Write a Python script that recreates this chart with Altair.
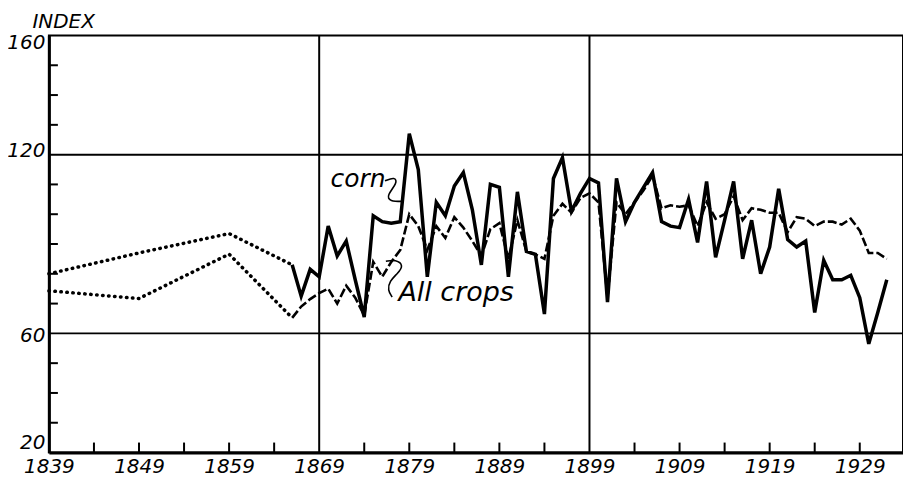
import altair as alt
import pandas as pd

# ---------------- data ----------------
early_years = [1839, 1849, 1859, 1866]
corn_early = [80.0, 87.0, 93.5, 83.0]
crops_early = [74.3, 71.7, 86.6, 65.2]

years = list(range(1866, 1933))
corn = [83, 72.5, 81.5, 79, 96, 86, 91, 78, 65.5, 99.5,
        97.5, 97, 97.5, 127, 115, 79, 104, 99.5, 109.5, 114,
        101.5, 83, 110, 109, 79, 107.5, 87.5, 86.5, 66.5, 112,
        119, 101, 107, 112, 110.5, 70.5, 112, 97.5, 104, 109,
        114, 97.5, 96, 95.5, 105, 90.5, 111, 85.5, 98, 111,
        85, 98, 80, 89, 108.5, 91.5, 89, 91, 67, 84.5,
        78, 78, 79.5, 72, 56.5, 67, 78]
all_crops = [65.2, 69, 71.5, 73.5, 75, 70, 76, 72, 66, 84,
             79, 84, 88, 100, 96, 88, 96, 92, 99, 95.5,
             91, 86, 95, 97, 85, 98, 87.5, 86.5, 85, 99.5,
             103.5, 100.5, 105.5, 107, 104, 72, 104, 100, 104, 108,
             113, 102, 103, 102.5, 103, 96, 104, 98.5, 100, 106,
             98, 102, 101.5, 100.5, 100.5, 94, 99, 98.5, 96, 97.5,
             97.5, 96.5, 98.5, 94.5, 87, 87, 85]

x_label_years = [1839, 1849, 1859, 1869, 1879, 1889, 1899, 1909, 1919, 1929]
x_tick_years = [1844, 1849, 1854, 1859, 1864, 1874, 1879, 1884, 1889, 1894,
                1904, 1909, 1914, 1919, 1924, 1929]
y_label_values = [20, 60, 120, 160]
y_tick_values = [30, 40, 50, 70, 80, 90, 100, 110, 130, 140, 150]
grid_years = [1869, 1899]
grid_values = [60, 120]

label_names = ["corn", "All crops"]
label_years = [1873.3, 1884.2]
label_values = [111.8, 73.4]

corn_leader_years = [1876.3, 1877.4, 1877.7, 1876.5, 1876.8, 1878.4]
corn_leader_values = [111.2, 112.5, 110.6, 106.3, 104.3, 104.3]
crops_leader_years = [1876.4, 1877.5, 1878.4, 1877.7, 1876.8, 1876.6, 1877.1]
crops_leader_values = [84.2, 84.8, 82.8, 80.1, 77.5, 74.5, 72.2]

# ---------------- tables ----------------
early_df = pd.DataFrame({
    "year": early_years * 2,
    "value": corn_early + crops_early,
    "series": ["Corn"] * len(early_years) + ["All crops"] * len(early_years),
})
corn_df = pd.DataFrame({"year": years, "value": corn})
crops_df = pd.DataFrame({"year": years, "value": all_crops})
xlab_df = pd.DataFrame({"year": x_label_years})
xtick_df = pd.DataFrame({"year": x_tick_years})
ytick_df = pd.DataFrame({"value": y_tick_values})
gx_df = pd.DataFrame({"year": grid_years})
gy_df = pd.DataFrame({"value": grid_values})
lab_df = pd.DataFrame({"name": label_names, "year": label_years, "value": label_values,
                       "size": [25, 27]})
lead_df = pd.DataFrame({
    "year": corn_leader_years + crops_leader_years,
    "value": corn_leader_values + crops_leader_values,
    "which": ["corn"] * len(corn_leader_years) + ["crops"] * len(crops_leader_years),
    "order": list(range(len(corn_leader_years))) + list(range(len(crops_leader_years))),
})

W, H = 856, 418
FONT = "DejaVu Sans"
xs = alt.Scale(domain=[1839, 1933.8], nice=False, zero=False)
ys = alt.Scale(domain=[20, 160], nice=False, zero=False)

x_axis = alt.Axis(values=x_label_years, format="d", title=None, ticks=False, grid=False,
                  domainColor="black", domainWidth=3, labelFont=FONT,
                  labelFontStyle="italic", labelFontSize=20, labelColor="black",
                  labelPadding=4, labelFlush=False, labelOverlap=False)
y_axis = alt.Axis(values=y_label_values, title="INDEX", ticks=False, grid=False,
                  domainColor="black", domainWidth=3, labelFont=FONT,
                  labelFontStyle="italic", labelFontSize=20, labelColor="black",
                  labelPadding=4, labelOverlap=False,
                  labelOffset={"condition": [
                      {"test": "datum.value == 20", "value": -10},
                      {"test": "datum.value == 160", "value": 7},
                      {"test": "datum.value == 120", "value": -4},
                  ], "value": 2},
                  titleAngle=0, titleAlign="left", titleBaseline="alphabetic",
                  titleX=-17, titleY=-8, titleFont=FONT, titleFontStyle="italic",
                  titleFontWeight="normal", titleFontSize=20, titleColor="black")

# axes carrier (invisible points)
axes = alt.Chart(xlab_df).mark_point(opacity=0).encode(
    x=alt.X("year:Q", scale=xs, axis=x_axis),
    y=alt.Y("value:Q", scale=ys, axis=y_axis),
).transform_calculate(value="40")

grid_v = alt.Chart(gx_df).mark_rule(color="black", strokeWidth=2).encode(
    x=alt.X("year:Q", scale=xs), y=alt.value(0), y2=alt.value(H))
grid_h = alt.Chart(gy_df).mark_rule(color="black", strokeWidth=2).encode(
    y=alt.Y("value:Q", scale=ys), x=alt.value(0), x2=alt.value(W))

xticks = alt.Chart(xtick_df).mark_rule(color="black", strokeWidth=2).encode(
    x=alt.X("year:Q", scale=xs), y=alt.value(H), y2=alt.value(H - 10))
yticks = alt.Chart(ytick_df).mark_rule(color="black", strokeWidth=2).encode(
    y=alt.Y("value:Q", scale=ys), x=alt.value(0), x2=alt.value(9))

early = alt.Chart(early_df).mark_line(
    color="black", strokeWidth=3.5, strokeDash=[0.5, 5.5], strokeCap="round"
).encode(x=alt.X("year:Q", scale=xs), y=alt.Y("value:Q", scale=ys), detail="series:N")

corn_line = alt.Chart(corn_df).mark_line(color="black", strokeWidth=3.5).encode(
    x=alt.X("year:Q", scale=xs), y=alt.Y("value:Q", scale=ys))

crops_line = alt.Chart(crops_df).mark_line(
    color="black", strokeWidth=2.6, strokeDash=[9, 3]
).encode(x=alt.X("year:Q", scale=xs), y=alt.Y("value:Q", scale=ys))

labels = alt.Chart(lab_df).mark_text(
    font=FONT, fontStyle="italic", color="black", align="center", baseline="middle"
).encode(x=alt.X("year:Q", scale=xs), y=alt.Y("value:Q", scale=ys), text="name:N",
         size=alt.Size("size:Q", scale=None, legend=None))

leaders = alt.Chart(lead_df).mark_line(color="black", strokeWidth=1.6, interpolate="basis").encode(
    x=alt.X("year:Q", scale=xs), y=alt.Y("value:Q", scale=ys), detail="which:N", order="order:Q")

chart = alt.layer(
    axes, grid_v, grid_h, xticks, yticks, early, crops_line, corn_line, labels, leaders
).properties(
    width=W, height=H, autosize="none",
    padding={"left": 41, "top": 27, "right": 0, "bottom": 30},
    background="white",
).configure_view(stroke="black", strokeWidth=2)

chart.save("out.html", embed_options={"renderer": "svg", "actions": False})
